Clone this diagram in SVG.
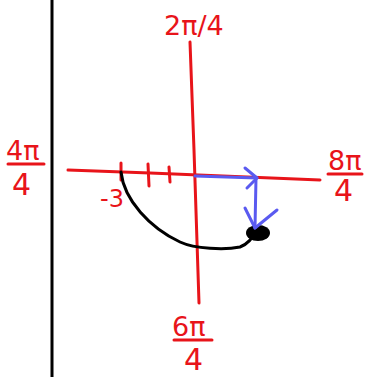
<svg xmlns="http://www.w3.org/2000/svg" width="370" height="377" viewBox="0 0 370 377">
<style>
.red{stroke:#e8141a;stroke-width:3;fill:none;stroke-linecap:round;stroke-linejoin:round}
.blk{stroke:#000;stroke-width:3;fill:none;stroke-linecap:round;stroke-linejoin:round}
.blu{stroke:#5a5af0;stroke-width:3;fill:none;stroke-linecap:round;stroke-linejoin:round}
.lbl{fill:#e8141a;font-family:"DejaVu Sans",sans-serif;font-size:27px}
.big{font-size:30px}
</style>
<rect width="370" height="377" fill="#fff"/>
<g id="wall"><path class="blk" d="M52 0 L52 377"/></g>
<g id="axes">
<path class="red" d="M68 170 L150 173 L320 180"/>
<path class="red" d="M190 42 L194 150 L199 303"/>
<path class="red" d="M121 163 L121 180 M148 164 L149 186 M169 167 L170 182"/>
</g>
<g id="curve">
<path class="blk" d="M121 172 C124 200 150 228 180 242 C195 249 225 250 240 247 C248 244 252 238 256 232"/>
<ellipse cx="258" cy="233" rx="12" ry="8" fill="#000"/>
</g>
<g id="connectors">
<path class="blu" d="M195 176 L257 178"/>
<path class="blu" d="M245 168 L257 178 L247 188"/>
<path class="blu" d="M256 178 L255 228"/>
<path class="blu" d="M245 208 L255 228 L277 210"/>
</g>
<g id="labels">
<text class="lbl" x="164" y="35">2π/4</text>
<text class="lbl" x="6" y="160">4π</text>
<path class="red" d="M8 164 L44 164"/>
<text class="lbl big" x="12" y="195">4</text>
<text class="lbl" x="328" y="170">8π</text>
<path class="red" d="M328 174 L362 174"/>
<text class="lbl big" x="334" y="201">4</text>
<text class="lbl" x="172" y="336">6π</text>
<path class="red" d="M174 340 L212 340"/>
<text class="lbl big" x="184" y="370">4</text>
<text class="lbl" x="100" y="207" style="font-size:24px">-3</text>
</g>
</svg>
